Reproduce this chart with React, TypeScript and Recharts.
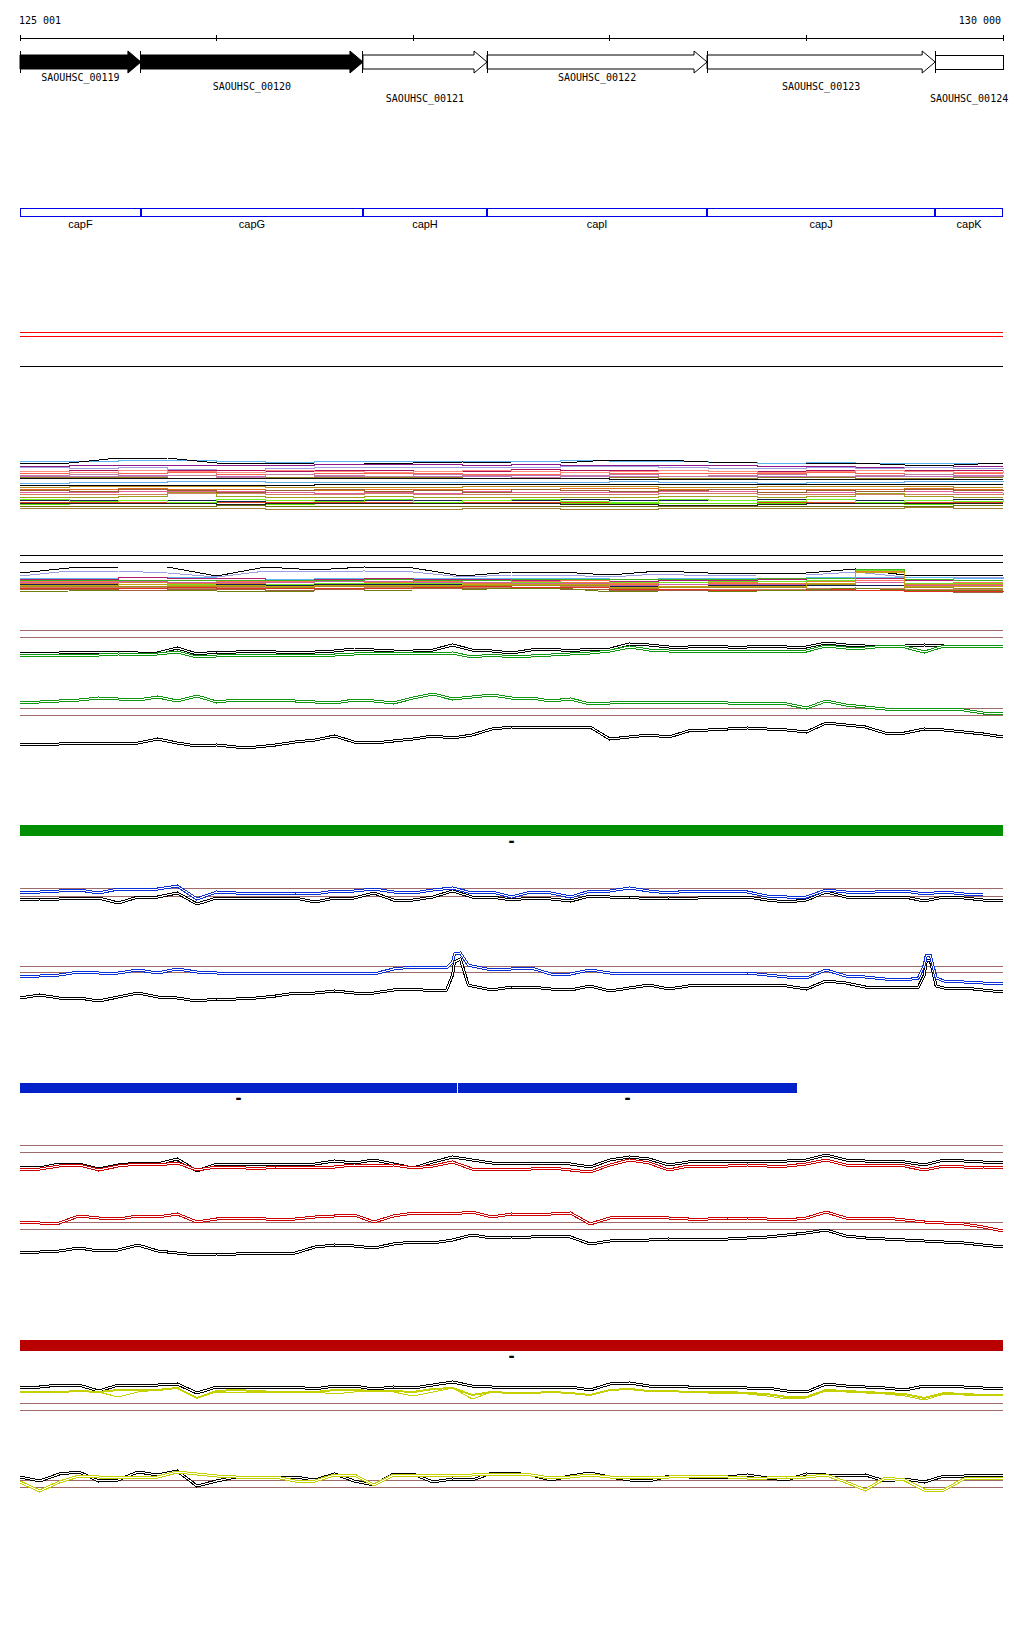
import { ComposedChart, LineChart, Line, Bar, XAxis, YAxis, ReferenceLine } from "recharts";

const W = 1024;
const MONO = "'DejaVu Sans Mono', monospace";
const SANS = "'Liberation Sans', Arial, sans-serif";

// region 125 001 .. 130 000, x values are bp offsets from regionStart
const regionStart = 125001;
const rulerTicks = [0, 999, 1999, 2999, 3999, 4999];

const geneNames = ["SAOUHSC_00119", "SAOUHSC_00120", "SAOUHSC_00121", "SAOUHSC_00122", "SAOUHSC_00123", "SAOUHSC_00124"];
const geneLengths = [615, 1129, 631, 1119, 1160, 345];
const geneKinds = ["filled", "filled", "open", "open", "open", "box"];
const capNames = ["capF", "capG", "capH", "capI", "capJ", "capK"];

// annotation bars (odd entries are gaps)
const greenSpans = [4999];
const blueSpans = [2222, 5, 1724];
const redSpans = [4999];

const grid100 = Array.from({ length: 51 }, (_, i) => i * 100);
const grid250 = Array.from({ length: 21 }, (_, i) => i * 250);
const spikeGrid = [
  0, 100, 200, 300, 400, 500, 600, 700, 800, 900, 1000, 1100, 1200, 1300, 1400, 1500, 1600, 1700, 1800, 1900, 2000, 2100,
  2170, 2200, 2210, 2240, 2280,
  2300, 2400, 2500, 2600, 2700, 2800, 2900, 3000, 3100, 3200, 3300, 3400, 3500, 3600, 3700, 3800, 3900, 4000, 4100, 4200, 4300, 4400, 4500,
  4570, 4600, 4610, 4630, 4660,
  4700, 4800, 4900, 5000,
];

// track A (green)
const aBlackTop = [107,107,107,108,108,108,107,107,112,106,108,108,109,108,108,108,109,111,110,109,109,110,115,110,109,107,110,111,109,111,111,116,115,113,113,114,113,113,114,113,113,117,115,114,114,114,115,114,114,113,114];
const aGreenTop = [105,105,104,105,105,106,105,106,108,103,104,105,105,105,105,105,105,106,107,106,107,106,107,103,105,103,104,105,106,107,109,113,110,109,109,109,109,109,109,109,109,114,112,112,114,113,108,114,114,114,114];
const aGreenLow = [57,58,59,60,62,61,60,63,59,64,58,60,60,60,59,58,57,60,59,57,62,66,61,63,65,62,62,59,61,56,57,58,58,58,58,58,57,57,57,56,52,59,55,53,51,51,51,51,50,47,46];
const aBlackLow = [16,16,16,17,17,16,17,21,17,14,15,13,13,15,18,20,24,18,17,19,21,24,22,25,31,33,33,32,33,33,21,23,25,23,29,30,31,32,31,30,28,37,35,33,27,27,31,30,28,26,23];

// track B (blue)
const bBlueTop = [118,118,119,120,117,121,121,121,124,111,118,117,117,117,117,116,119,119,121,118,117,120,122,117,118,113,118,117,113,119,119,122,119,117,119,119,119,118,114,113,113,120,118,117,119,119,116,118,116,115];
const bBlackTop = [110,111,111,112,112,107,113,113,117,106,112,112,112,112,112,108,112,112,117,110,110,113,119,113,113,110,112,111,109,114,113,113,111,112,111,113,113,113,110,108,110,118,113,113,113,113,109,113,112,110,110];
const bBlueLow = [33,34,35,38,37,37,40,37,41,38,37,37,37,37,37,37,37,37,36,41,43,43,42,48,56,57,45,44,40,41,42,36,36,40,37,37,37,37,37,37,37,37,35,33,32,40,34,33,31,30,32,45,55,55,32,29,28,27,27];
const bBlackLow = [12,15,12,12,9,13,17,13,12,9,11,11,12,14,17,17,19,17,17,20,21,19,20,35,48,51,25,24,20,23,23,21,20,24,19,22,25,21,24,25,25,25,25,24,21,29,27,23,23,23,23,35,49,50,24,22,22,20,18];

// track C (red)
const cRedTop = [96,96,99,100,95,99,101,100,102,95,98,98,96,98,98,98,98,100,99,100,97,99,103,96,96,95,96,97,95,93,100,105,102,95,99,99,99,100,99,99,101,105,100,99,100,99,95,99,98,98,97];
const cBlackTop = [98,97,101,101,96,100,102,101,106,94,101,101,101,101,101,101,104,102,105,101,97,103,108,105,102,102,102,102,101,98,105,108,106,100,103,104,104,104,104,104,105,110,105,104,104,103,100,105,104,103,103];
const cRedLow = [43,42,42,49,47,46,49,48,51,43,46,47,47,45,46,48,49,50,43,49,52,52,51,53,48,51,50,51,52,41,47,48,48,47,46,46,47,47,46,45,47,53,47,46,47,45,43,42,41,38,34];
const cBlackLow = [12,13,14,17,14,15,20,14,12,10,11,11,12,12,12,18,20,19,17,21,23,22,25,30,27,28,28,29,28,21,24,25,25,26,25,26,26,27,28,30,32,35,29,27,26,25,24,23,22,20,18];

// track D (yellow)
const dBlackTop = [113,113,115,115,109,115,115,115,116,107,113,113,113,113,113,111,114,114,111,113,112,115,118,114,113,112,113,113,113,110,116,117,114,114,113,113,113,112,112,109,108,116,114,113,112,110,114,114,113,112,112];
const dYellowTop = [108,108,108,109,108,110,110,110,112,102,109,110,109,108,108,108,110,110,109,109,108,111,112,105,108,107,107,108,107,105,110,111,109,109,108,108,108,107,106,103,103,110,109,108,107,106,102,107,106,105,105];
const dYellowTop2 = [108,108,108,109,108,103,108,110,112,102,108,108,108,108,108,108,106,108,109,108,104,108,112,101,108,107,107,108,107,105,110,111,109,109,108,107,107,106,104,101,102,109,108,107,106,104,100,106,105,105,105];
const dBlackLow = [23,19,26,28,19,20,28,25,29,14,19,23,23,23,23,20,26,19,15,26,26,18,21,20,27,27,25,20,24,27,23,20,19,24,23,22,23,25,22,20,26,25,24,25,19,21,18,24,24,25,25];
const dYellowLow = [18,9,18,24,23,23,23,23,28,26,24,23,23,23,19,19,25,25,15,25,25,25,25,25,26,26,25,22,23,25,23,22,23,23,24,24,23,22,22,23,23,25,18,10,22,20,10,10,21,22,22];

// multi-sample band 1 (one row per sample, every 250 bp)
const band1Colors = ["#5ab4f0","#000000","#8b1a8b","#a0a0e0","#b0105a","#ff6450","#c070c0","#8c8020","#111111","#60b0e8","#000000","#b89020","#e07020","#e060a0","#d08060","#a0a020","#102050","#e04020","#60e000","#707010","#222222","#a08030","#ff9080","#c080a0","#70f020","#9a6030"];
const band1Values = [
  [59,59,60,60,59,58,59,59,59,59,59,60,59,59,58,57,58,57,57,57,57],
  [57,57,62,62,57,56,57,57,57,58,57,57,60,60,58,57,57,57,55,55,57],
  [54,55,55,55,55,55,56,56,56,55,56,55,55,55,55,54,54,53,53,54,54],
  [53,52,53,51,50,52,53,53,53,53,53,54,54,53,52,52,53,52,53,52,51],
  [49,50,50,50,50,49,50,50,49,49,51,50,50,50,49,49,50,50,50,50,50],
  [47,46,47,48,46,46,47,47,47,46,46,48,47,47,47,47,48,47,46,47,47],
  [44,44,45,45,44,42,44,44,44,44,45,44,44,44,44,44,43,44,44,45,45],
  [43,43,43,42,42,43,43,43,43,42,43,42,43,42,42,43,43,42,42,43,43],
  [42,42,42,42,42,42,42,42,42,42,42,42,41,41,41,41,41,41,41,41,41],
  [37,38,38,39,39,38,38,38,38,38,38,38,39,38,38,37,38,38,39,39,38],
  [35,35,35,35,35,35,36,36,36,36,36,36,36,36,36,36,36,36,36,36,36],
  [33,34,34,34,34,33,33,33,33,34,34,34,34,33,33,34,34,34,34,33,33],
  [31,31,32,31,31,30,30,31,31,31,31,32,32,31,31,31,31,31,32,31,31],
  [28,28,29,29,29,28,27,28,27,29,28,28,28,29,29,28,28,29,29,28,28],
  [26,26,26,27,27,26,26,27,26,26,26,26,26,27,27,26,26,26,26,26,27],
  [23,23,24,28,24,23,23,24,23,23,23,23,23,24,24,23,24,27,24,23,23],
  [20,20,20,20,19,20,20,20,20,20,20,21,20,20,20,21,21,20,20,21,21],
  [18,18,18,17,18,18,18,18,18,18,18,18,17,17,17,18,18,18,18,18,18],
  [16,17,17,17,16,16,17,17,17,17,17,17,17,17,17,17,17,17,16,17,17],
  [14,14,14,14,15,14,14,14,14,14,14,14,14,14,14,14,14,14,14,15,15],
  [17,17,17,17,16,17,17,17,17,17,17,16,16,15,15,16,17,17,17,17,17],
  [12,12,12,12,12,11,11,11,11,12,12,11,11,12,12,12,12,12,13,12,12],
  [49,48,50,49,48,50,49,48,49,50,49,48,49,50,49,48,49,50,49,48,49],
  [45,46,44,45,43,46,45,44,46,45,43,45,46,44,45,46,44,45,46,44,45],
  [21,19,20,18,21,20,19,21,18,20,21,19,18,21,20,19,21,18,20,19,21],
  [30,29,31,30,28,30,31,29,30,28,31,30,29,30,31,28,30,29,31,30,29],
];
const band1Linear = [1];

// multi-sample band 2
const band2Colors = ["#000000","#9aa0e0","#60b8f0","#b0206a","#ff7058","#e08030","#70e020","#102050","#a09020","#c88060","#d060a0","#a06040","#40b020","#e03020","#708010","#c8a010"];
const band2Values = [
  [27,32,33,33,24,33,30,33,32,24,28,28,25,29,27,27,27,31,25,25,25],
  [24,29,29,27,23,29,28,29,28,23,25,25,23,26,24,25,25,28,23,23,23],
  [22,22,23,23,22,21,22,22,22,22,22,22,21,22,22,22,23,23,23,22,23],
  [21,21,23,22,22,20,21,22,21,21,20,21,19,20,20,21,22,22,20,20,20],
  [19,19,20,20,19,19,20,19,19,20,19,20,17,18,18,19,20,20,17,18,18],
  [17,17,18,17,17,16,17,18,18,17,18,18,16,16,17,17,19,29,16,16,16],
  [15,16,16,16,15,16,17,17,17,18,18,17,18,18,19,19,20,30,17,17,17],
  [16,16,16,15,16,15,16,16,16,16,16,16,14,14,15,15,15,15,14,14,14],
  [14,14,14,14,14,13,14,14,14,15,15,15,12,13,13,13,16,28,13,12,12],
  [13,13,13,12,13,12,12,13,13,13,13,14,11,11,11,11,12,12,11,11,11],
  [18,18,19,18,18,18,19,19,18,18,17,17,15,16,16,16,17,18,15,15,15],
  [11,11,10,11,11,10,11,12,12,12,12,11,10,10,10,10,10,10,9,8,8],
  [20,20,20,20,20,20,20,21,20,20,21,21,21,21,21,22,22,31,21,20,20],
  [12,12,12,13,12,12,12,12,13,14,13,13,11,11,10,10,11,10,9,9,8],
  [8,9,10,10,9,8,9,9,10,10,12,12,8,9,9,9,10,12,10,10,10],
  [15,15,16,15,15,14,15,15,15,16,16,16,13,14,14,14,17,28,14,14,14],
];
const band2Linear = [0, 1, 14];

const GREEN = "#0f980f";
const BLUE = "#0b2fd6";
const RED = "#cc0000";
const YELLOW = "#c4d000";
const BROWN = "#9e6a6a";

type S = { pos: number[]; vals: number[]; color: string; width?: number; double?: boolean; step?: boolean };
type R = { y: number; color: string };

const toPts = (pos: number[], vals: number[]) => vals.map((v, i) => ({ bp: pos[i], v }));

function renderSeries(list: S[]) {
  const out: any[] = [];
  list.forEach((s, i) => {
    const common = {
      data: toPts(s.pos, s.vals),
      dataKey: "v",
      type: (s.step ? "stepAfter" : "linear") as any,
      dot: false,
      activeDot: false,
      isAnimationActive: false,
      shapeRendering: "crispEdges",
    };
    if (s.double) {
      out.push(<Line key={`o${i}`} {...common} stroke={s.color} strokeWidth={3} />);
      out.push(<Line key={`w${i}`} {...common} stroke="#fff" strokeWidth={1} />);
    } else {
      out.push(<Line key={`l${i}`} {...common} stroke={s.color} strokeWidth={s.width ?? 1} />);
    }
  });
  return out;
}

function Track({ top, height, series, refs }: { top: number; height: number; series: S[]; refs: R[] }) {
  return (
    <div style={{ position: "absolute", left: 0, top }}>
      <LineChart width={W} height={height} margin={{ top: 0, right: 21, bottom: 0, left: 20 }}>
        <XAxis dataKey="bp" type="number" domain={[0, 5000]} hide />
        <YAxis type="number" domain={[0, height]} hide />
        {refs.map((r, i) => (
          <ReferenceLine key={i} y={r.y} stroke={r.color} shapeRendering="crispEdges" />
        ))}
        {renderSeries(series)}
      </LineChart>
    </div>
  );
}

const fmt = (n: number) => String(n).replace(/\B(?=(\d{3})+(?!\d))/g, " ");

function RulerTick(props: any) {
  const { x, y, payload, index } = props;
  const last = index === rulerTicks.length - 1;
  const show = index === 0 || last;
  return (
    <g>
      <line x1={x} x2={x} y1={y - 3} y2={y + 3} stroke="#000" shapeRendering="crispEdges" />
      {show && (
        <text x={last ? x - 2 : x - 1} y={y - 14} textAnchor={last ? "end" : "start"} fontFamily={MONO} fontSize={10} fill="#000">
          {fmt(regionStart + payload.value)}
        </text>
      )}
    </g>
  );
}

function GeneShape(props: any) {
  const { x, y, width, height, kind, label, row } = props;
  const cy = y + height / 2;
  const tip = x + width;
  const neck = tip - 13;
  const hh = 11;
  const labelY = y + height + [12, 21, 33][row];
  const body =
    kind === "box" ? (
      <rect x={x} y={y} width={width} height={height} fill="#fff" stroke="#000" shapeRendering="crispEdges" />
    ) : (
      <polygon
        points={`${x},${y} ${neck},${y} ${neck},${cy - hh} ${tip},${cy} ${neck},${cy + hh} ${neck},${y + height} ${x},${y + height}`}
        fill={kind === "filled" ? "#000" : "#fff"}
        stroke="#000"
      />
    );
  return (
    <g>
      {body}
      <line x1={x} x2={x} y1={cy - hh} y2={cy + hh} stroke="#000" shapeRendering="crispEdges" />
      <text x={x + width / 2} y={labelY} textAnchor="middle" fontFamily={MONO} fontSize={10} fill="#000">
        {label}
      </text>
    </g>
  );
}

function CapShape(props: any) {
  const { x, y, width, height, label } = props;
  return (
    <g>
      <rect x={x + 0.5} y={y + 0.5} width={width - 1} height={height - 1} fill="#fff" stroke="#0000f0" shapeRendering="crispEdges" />
      <text x={x + width / 2} y={y + height + 10.5} textAnchor="middle" fontFamily={SANS} fontSize={11} fill="#000">
        {label}
      </text>
    </g>
  );
}

function FeatureShape(props: any) {
  const { x, y, width, height, color, gap } = props;
  if (gap) return <g />;
  return (
    <g>
      <rect x={x} y={y} width={width} height={height} fill={color} shapeRendering="crispEdges" />
      <text x={x + width / 2} y={y + height + 10} textAnchor="middle" fontFamily={MONO} fontSize={15} fontWeight="bold" fill="#000">
        -
      </text>
    </g>
  );
}

function FeatureTrack({ top, spans, color, size }: { top: number; spans: number[]; color: string; size: number }) {
  const row = [{ row: "f", ...Object.fromEntries(spans.map((l, i) => [`s${i}`, l])) }];
  return (
    <div style={{ position: "absolute", left: 0, top }}>
      <ComposedChart layout="vertical" width={W} height={40} data={row} margin={{ top: 9, right: 21, bottom: 31 - size, left: 20 }}>
        <XAxis type="number" domain={[0, 4999]} hide />
        <YAxis type="category" dataKey="row" hide />
        {spans.map((_, i) => (
          <Bar
            key={i}
            dataKey={`s${i}`}
            stackId="f"
            barSize={size}
            isAnimationActive={false}
            shape={(p: any) => <FeatureShape {...p} color={color} gap={i % 2 === 1} />}
          />
        ))}
      </ComposedChart>
    </div>
  );
}

export default function App() {
  const geneRow = [{ row: "g", ...Object.fromEntries(geneLengths.map((l, i) => [`g${i}`, l])) }];

  const band1: S[] = band1Values.map((vals, i) => ({ pos: grid250, vals, color: band1Colors[i], step: !band1Linear.includes(i) }));
  const band2: S[] = band2Values.map((vals, i) => ({ pos: grid250, vals, color: band2Colors[i], step: !band2Linear.includes(i) }));

  return (
    <div style={{ position: "absolute", left: 0, top: 0, width: W, height: 1640, background: "#fff", overflow: "hidden" }}>
      {/* ruler + genes */}
      <div style={{ position: "absolute", left: 0, top: 0 }}>
        <ComposedChart layout="vertical" width={W} height={110} data={geneRow} margin={{ top: 8, right: 21, bottom: 25, left: 20 }}>
          <XAxis
            type="number"
            orientation="top"
            domain={[0, 4999]}
            ticks={rulerTicks}
            interval={0}
            height={30}
            tickSize={0}
            tickMargin={0}
            tickLine={false}
            axisLine={{ stroke: "#000", shapeRendering: "crispEdges" }}
            tick={(p: any) => <RulerTick {...p} />}
          />
          <YAxis type="category" dataKey="row" hide />
          {geneLengths.map((_, i) => (
            <Bar
              key={i}
              dataKey={`g${i}`}
              stackId="g"
              barSize={14}
              isAnimationActive={false}
              shape={(p: any) => <GeneShape {...p} kind={geneKinds[i]} label={geneNames[i]} row={i % 3} />}
            />
          ))}
        </ComposedChart>
      </div>

      {/* cap genes */}
      <div style={{ position: "absolute", left: 0, top: 195 }}>
        <ComposedChart layout="vertical" width={W} height={40} data={geneRow} margin={{ top: 12, right: 21, bottom: 18, left: 20 }}>
          <XAxis type="number" domain={[0, 4999]} hide />
          <YAxis type="category" dataKey="row" hide />
          {geneLengths.map((_, i) => (
            <Bar
              key={i}
              dataKey={`g${i}`}
              stackId="c"
              barSize={10}
              isAnimationActive={false}
              shape={(p: any) => <CapShape {...p} label={capNames[i]} />}
            />
          ))}
        </ComposedChart>
      </div>

      <Track
        top={320}
        height={200}
        series={band1}
        refs={[
          { y: 188, color: "#ff0000" },
          { y: 184, color: "#ff0000" },
          { y: 154, color: "#000" },
        ]}
      />
      <Track
        top={545}
        height={55}
        series={band2}
        refs={[
          { y: 45, color: "#000" },
          { y: 38, color: "#000" },
        ]}
      />

      <Track
        top={620}
        height={140}
        series={[
          { pos: grid100, vals: aBlackTop, color: "#000", double: true },
          { pos: grid100, vals: aGreenTop, color: GREEN, double: true },
          { pos: grid100, vals: aGreenLow, color: GREEN, double: true },
          { pos: grid100, vals: aBlackLow, color: "#000", double: true },
        ]}
        refs={[130, 123, 52, 45].map((y) => ({ y, color: BROWN }))}
      />

      <FeatureTrack top={815} spans={greenSpans} color="#008f00" size={12} />

      <Track
        top={840}
        height={170}
        series={[
          { pos: grid100, vals: bBlackTop, color: "#000", double: true },
          { pos: grid100, vals: bBlueTop, color: BLUE, double: true },
          { pos: spikeGrid, vals: bBlackLow, color: "#000", double: true },
          { pos: spikeGrid, vals: bBlueLow, color: BLUE, double: true },
        ]}
        refs={[122, 114, 44, 38].map((y) => ({ y, color: BROWN }))}
      />

      <FeatureTrack top={1073} spans={blueSpans} color="#0022c8" size={11} />

      <Track
        top={1135}
        height={130}
        series={[
          { pos: grid100, vals: cBlackTop, color: "#000", double: true },
          { pos: grid100, vals: cRedTop, color: RED, double: true },
          { pos: grid100, vals: cRedLow, color: RED, double: true },
          { pos: grid100, vals: cBlackLow, color: "#000", double: true },
        ]}
        refs={[120, 113, 43, 36].map((y) => ({ y, color: BROWN }))}
      />

      <FeatureTrack top={1330} spans={redSpans} color="#b80000" size={12} />

      <Track
        top={1365}
        height={135}
        series={[
          { pos: grid100, vals: dBlackTop, color: "#000", double: true },
          { pos: grid100, vals: dYellowTop, color: YELLOW, width: 2 },
          { pos: grid100, vals: dYellowTop2, color: YELLOW },
          { pos: grid100, vals: dBlackLow, color: "#000", double: true },
          { pos: grid100, vals: dYellowLow, color: YELLOW, double: true },
        ]}
        refs={[97, 90, 20, 13].map((y) => ({ y, color: BROWN }))}
      />
    </div>
  );
}
